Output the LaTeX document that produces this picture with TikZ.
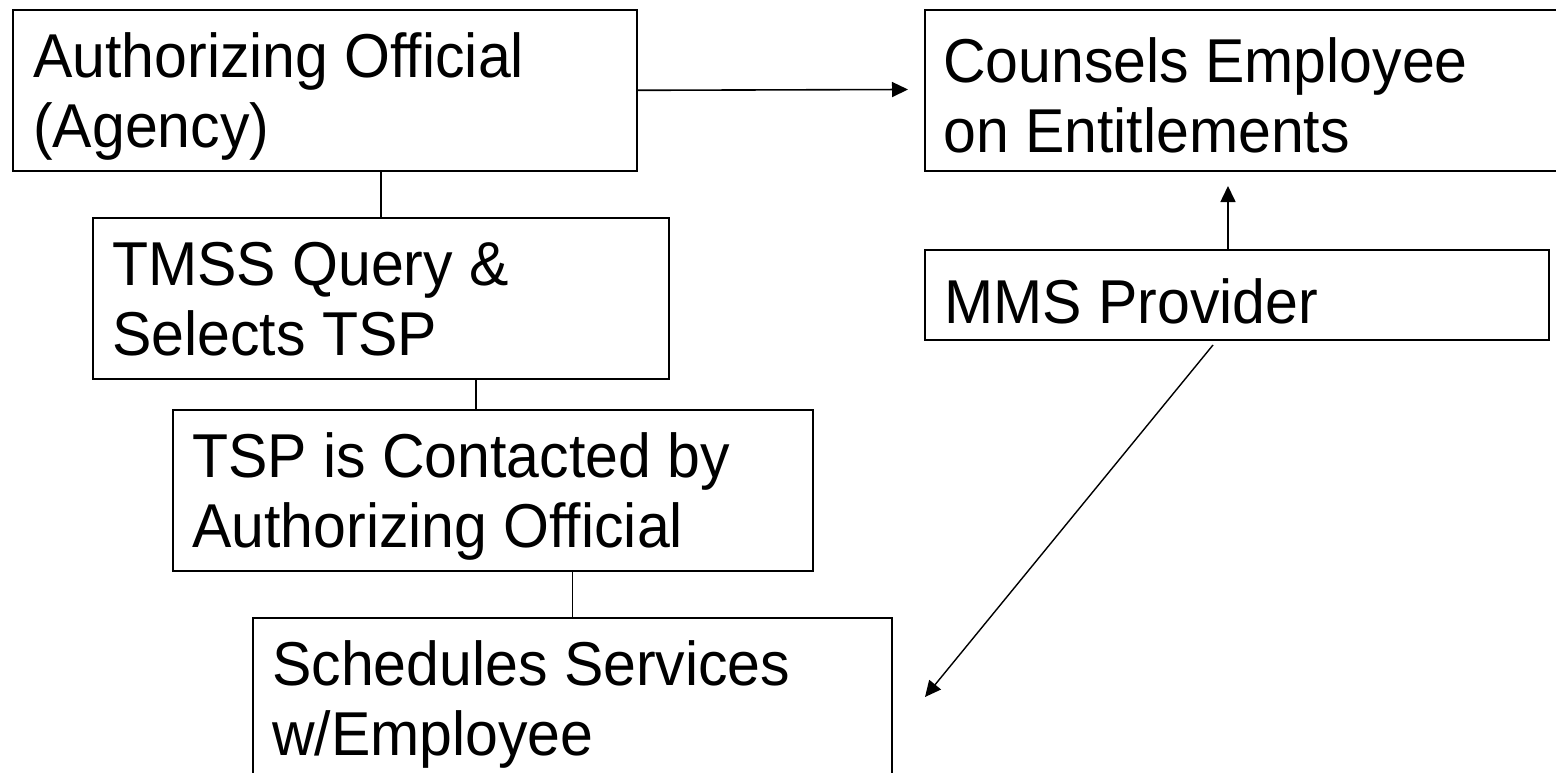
\documentclass[tikz,border=0pt]{standalone}
\usepackage{fontspec}
\setmainfont{Liberation Sans}
\usetikzlibrary{arrows.meta,calc}
\newcommand{\tline}[1]{\scalebox{1}[1.05]{#1}}
\tikzset{
  box/.style={draw=black, line width=1.6pt, rectangle, inner sep=0pt, anchor=north west},
  lbl/.style={anchor=north west, inner sep=0pt, align=left, font=\fontsize{59}{70.5}\selectfont},
  conn/.style={draw=black, line width=1.6pt},
  arr/.style={conn, -{Triangle[length=16pt,width=15pt]}},
}
\begin{document}
\begin{tikzpicture}[x=1pt,y=-1pt]
\useasboundingbox (0,0) rectangle (1556,773);
% boxes
\node[box, minimum width=624pt, minimum height=161pt] (ao) at (12,9) {};
\node[box, minimum width=646pt, minimum height=161pt] (ce) at (924,9) {};
\node[box, minimum width=576pt, minimum height=161pt] (tm) at (92,217) {};
\node[box, minimum width=624pt, minimum height=90pt] (mm) at (924,249) {};
\node[box, minimum width=640pt, minimum height=161pt] (ts) at (172,409) {};
\node[box, minimum width=639pt, minimum height=180pt] (sc) at (252,617) {};
% texts
\node[lbl] (aot) at ($(ao.north west)+(21,18)$) {\rule{0pt}{50pt}\tline{Authorizing Official}\\\tline{(Agency)}};
\node[lbl] (cet) at ($(ce.north west)+(19,23)$) {\rule{0pt}{50pt}\tline{Counsels Employee}\\\tline{on Entitlements}};
\node[lbl] (tmt) at ($(tm.north west)+(20,18)$) {\rule{0pt}{50pt}\tline{TMSS Query \&}\\\tline{Selects TSP}};
\node[lbl] (mmt) at ($(mm.north west)+(20,24)$) {\rule{0pt}{50pt}\tline{MMS Provider}};
\node[lbl] (tst) at ($(ts.north west)+(20,18)$) {\rule{0pt}{50pt}\tline{TSP is Contacted by}\\\tline{Authorizing Official}};
\node[lbl] (sct) at ($(sc.north west)+(20,18)$) {\rule{0pt}{50pt}\tline{Schedules Services}\\\tline{w/Employee}};
% connectors
\coordinate (c2) at (476,0);
\draw[conn] (ao.south -| tm.north) -- (tm.north);
\draw[conn] (tm.south -| c2) -- (ts.north -| c2);
\draw[conn] (ts.south -| sc.north) -- (sc.north);
\coordinate (t1) at (908,89.5);
\draw[arr] (ao.east) -- (t1);
\coordinate (t2) at (1228,186);
\draw[arr] (mm.north -| t2) -- (t2);
\coordinate (d1) at (1213,345);
\coordinate (d2) at (925,697);
\draw[arr, line width=1.4pt] (d1) -- (d2);
\end{tikzpicture}
\end{document}
